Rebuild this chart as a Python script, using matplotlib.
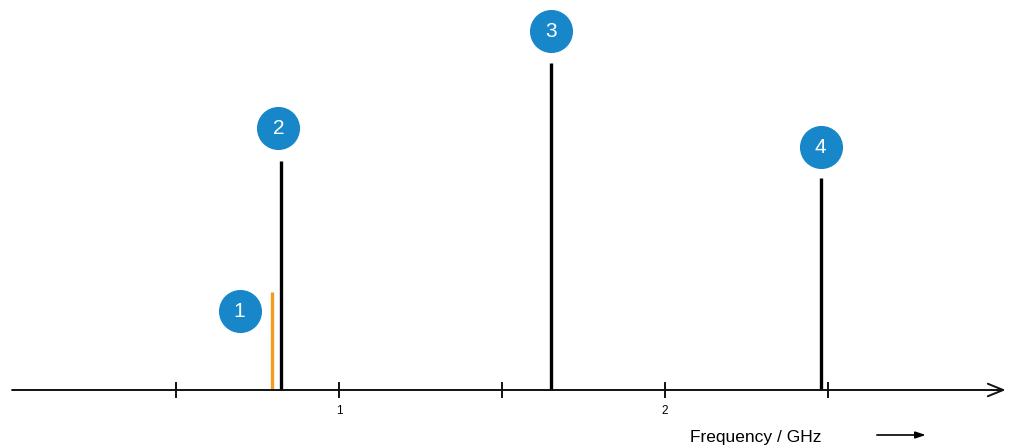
import numpy as np
import matplotlib.pyplot as plt

# spectral lines (GHz, arbitrary amplitude)
line_freqs = [0.796, 0.822, 1.65, 2.477]
line_amps = [98, 229, 327, 212]
line_colors = ["#f39c1f", "black", "black", "black"]

# numbered markers
marker_labels = ["1", "2", "3", "4"]
marker_x = [0.695, 0.814, 1.65, 2.477]
marker_y = [79, 262, 359, 243]

tick_pos = [0.5, 1.0, 1.5, 2.0, 2.5]
tick_labels = ["", "1", "", "2", ""]

fig = plt.figure(figsize=(10.1, 4.48), dpi=100)
ax = fig.add_axes([0, 0, 1, 1])
ax.set_xlim(-13 / 326, (1010 - 13) / 326)
ax.set_ylim(-58, 390)
ax.axis("off")

# frequency axis with open arrow head
ax.annotate("", xy=(3.045, 0), xytext=(-0.003, 0),
            arrowprops=dict(arrowstyle="->,head_length=1.1,head_width=0.45",
                            lw=1.4, color="#111111", shrinkA=0, shrinkB=0))

for x, lab in zip(tick_pos, tick_labels):
    ax.plot([x, x], [-7, 7], color="#111111", lw=1.4)
    if lab:
        ax.text(x, -21, lab, ha="center", va="center", fontsize=8.5,
                family="Liberation Sans")

ax.vlines(line_freqs, 0, line_amps, colors=line_colors, lw=2.4)

ax.scatter(marker_x, marker_y, s=900, color="#1787c9", zorder=3)
for x, y, lab in zip(marker_x, marker_y, marker_labels):
    ax.text(x, y, lab, ha="center", va="center", color="white",
            fontsize=15, family="Liberation Sans", zorder=4)

ax.text(2.077, -47, "Frequency / GHz", ha="left", va="center", fontsize=12.5,
        family="Liberation Sans")
ax.annotate("", xy=(2.8, -45), xytext=(2.65, -45),
            arrowprops=dict(arrowstyle="-|>,head_length=0.6,head_width=0.2",
                            lw=1.2, color="black", shrinkA=0, shrinkB=0))

fig.savefig("out.png", dpi=100)
